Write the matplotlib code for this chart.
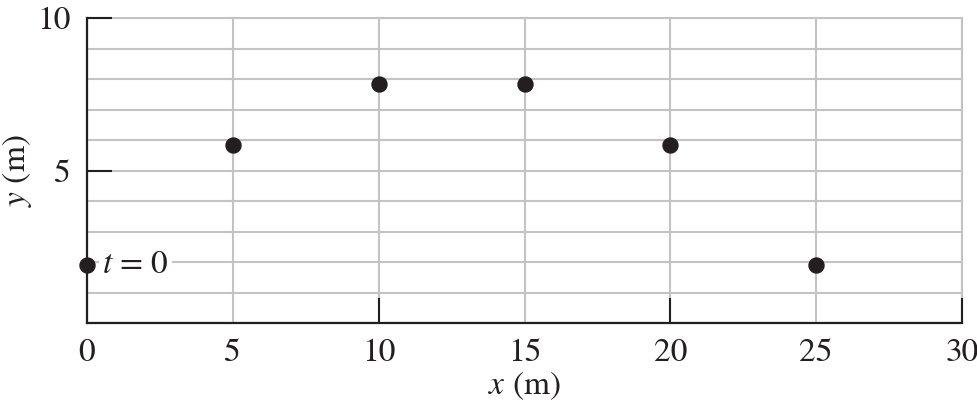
import matplotlib
matplotlib.use("Agg")
import matplotlib.pyplot as plt
from matplotlib.ticker import FixedLocator

plt.rcParams['font.family'] = ['STIXGeneral', 'DejaVu Serif']
plt.rcParams['mathtext.fontset'] = 'stix'

x_vals = [0, 5, 10, 15, 20, 25]
y_vals = [1.9, 5.85, 7.85, 7.85, 5.85, 1.9]
x_ticks = [0, 5, 10, 15, 20, 25, 30]
x_marks = [10, 20, 30]
y_labels = {5: "5", 10: "10"}
y_marks = [5, 10]

ink = "#231f20"
grid_c = "#c3c3c6"

fig = plt.figure(figsize=(9.78, 4.08), dpi=100)
ax = fig.add_axes([87/978, 85/408, 875/978, 305/408])
ax.set_xlim(0, 30)
ax.set_ylim(0, 10)

ax.xaxis.set_major_locator(FixedLocator(x_ticks))
ax.set_xticklabels([str(v) for v in x_ticks])
yt = list(range(0, 11))
ax.yaxis.set_major_locator(FixedLocator(yt))
ax.set_yticklabels([y_labels.get(v, "") for v in yt])
ax.tick_params(which='major', length=0, labelsize=24, colors=ink, pad=11)
ax.tick_params(axis='y', which='major', pad=12)

ax.xaxis.remove_overlapping_locs = False
ax.yaxis.remove_overlapping_locs = False
ax.xaxis.set_minor_locator(FixedLocator(x_marks))
ax.yaxis.set_minor_locator(FixedLocator(y_marks))
ax.tick_params(which='minor', direction='in', length=18, width=1.5, color=ink)

ax.grid(True, which='major', color=grid_c, linewidth=1.5)
ax.set_axisbelow(True)

for s in ['left', 'bottom']:
    ax.spines[s].set_color(ink)
    ax.spines[s].set_linewidth(1.6)
    ax.spines[s].set_zorder(3)
for s in ['top', 'right']:
    ax.spines[s].set_color(grid_c)
    ax.spines[s].set_linewidth(1.5)
    ax.spines[s].set_zorder(0.3)

ax.plot(x_vals, y_vals, 'o', color=ink, markersize=10.8, clip_on=False, zorder=5)

ax.annotate(r"$t$ = 0", xy=(x_vals[0], y_vals[0]), xytext=(11, 0),
            textcoords='offset points', fontsize=24, color=ink, va='center', ha='left',
            bbox=dict(boxstyle='square,pad=0.1', fc='white', ec='none'), zorder=4)

ax.set_xlabel(r"$x$ (m)", fontsize=24, color=ink)
ax.xaxis.set_label_coords(0.5, -0.152)
ax.set_ylabel(r"$y$ (m)", fontsize=24, color=ink)
ax.yaxis.set_label_coords(-0.060, 0.5)

fig.savefig("out.png", dpi=100)
